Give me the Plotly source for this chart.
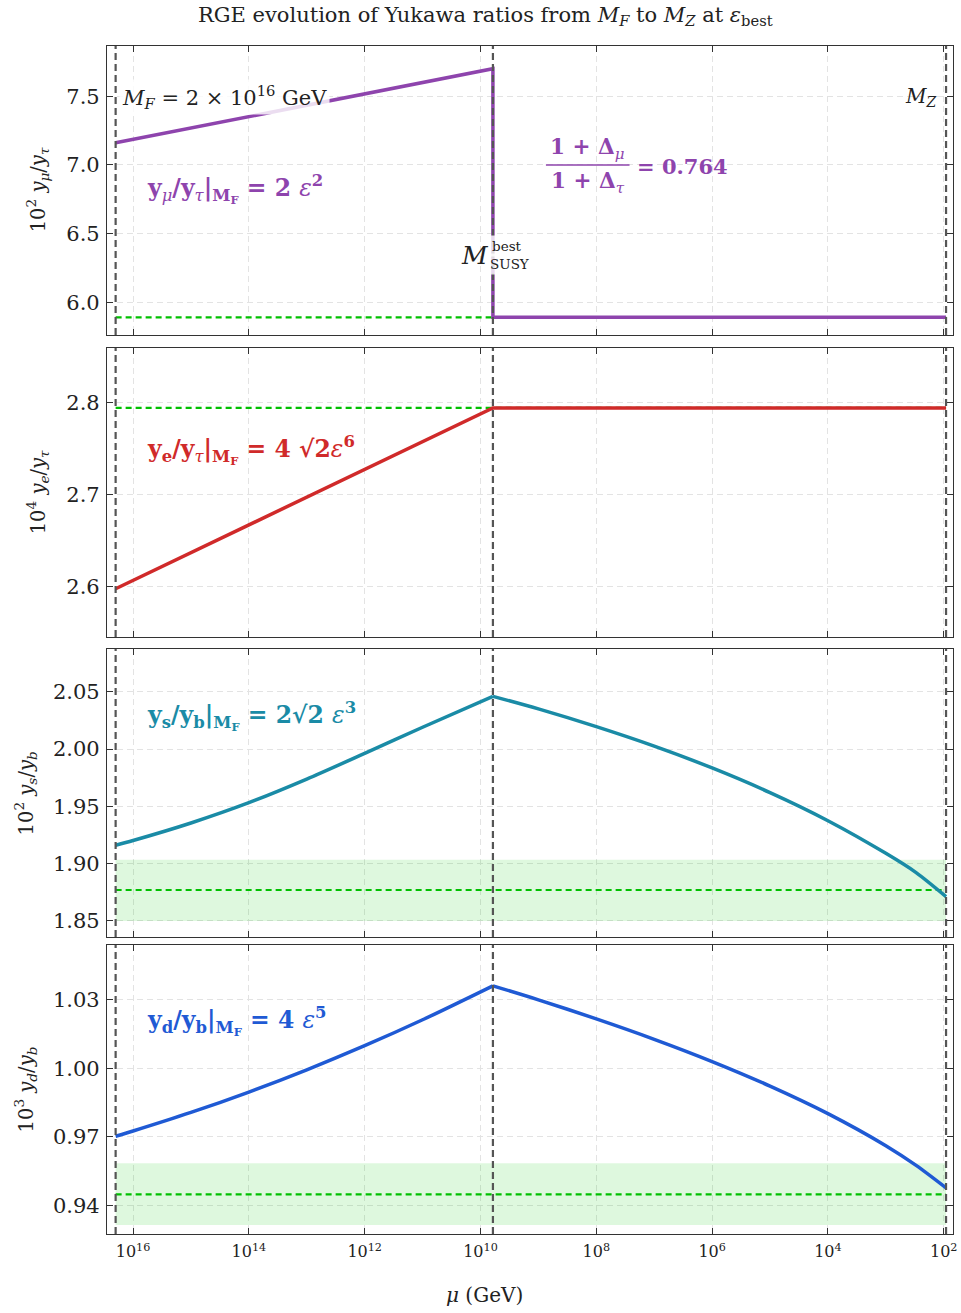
import numpy as np
import plotly.graph_objects as go

# ---------------- data ----------------
M_F = 2e16
M_SUSY = 6.1e9
M_Z = 91.19

# panel 1 : 10^2 y_mu/y_tau
mu_x = [M_F, M_SUSY, M_SUSY, M_Z]
mu_y = [7.161, 7.701, 5.891, 5.891]
mu_exp = 5.891

# panel 2 : 10^4 y_e/y_tau
e_x = [M_F, M_SUSY, M_Z]
e_y = [2.598, 2.794, 2.794]
e_exp = 2.794

# panel 3 : 10^2 y_s/y_b
s_x_hi = [M_F, 1e16, 1e15, 1e14, 1e13, 1e12, 1e11, M_SUSY]
s_y_hi = [1.9161, 1.9202, 1.9355, 1.9532, 1.9738, 1.9962, 2.0190, 2.0460]
s_x_lo = [M_SUSY, 1e9, 1e8, 1e7, 1e6, 1e5, 1e4, 1e3, 3e2, M_Z]
s_y_lo = [2.0460, 2.0350, 2.0195, 2.0025, 1.9835, 1.9620, 1.9375, 1.9090, 1.8922, 1.8712]
s_exp = 1.877
s_band = [1.850, 1.9035]

# panel 4 : 10^3 y_d/y_b
d_x_hi = [M_F, 1e16, 1e15, 1e14, 1e13, 1e12, 1e11, M_SUSY]
d_y_hi = [0.9703, 0.9726, 0.9807, 0.9896, 0.9993, 1.0098, 1.0211, 1.0359]
d_x_lo = [M_SUSY, 1e9, 1e8, 1e7, 1e6, 1e5, 1e4, 1e3, 3e2, M_Z]
d_y_lo = [1.0359, 1.0298, 1.0215, 1.0126, 1.0029, 0.9922, 0.9802, 0.9662, 0.9576, 0.9478]
d_exp = 0.945
d_band = [0.9316, 0.9585]

x_tickvals = [1e16, 1e14, 1e12, 1e10, 1e8, 1e6, 1e4, 1e2]
x_ticktext = ["10<sup>16</sup>", "10<sup>14</sup>", "10<sup>12</sup>", "10<sup>10</sup>",
              "10<sup>8</sup>", "10<sup>6</sup>", "10<sup>4</sup>", "10<sup>2</sup>"]

y_ticks = [[6.0, 6.5, 7.0, 7.5], [2.6, 2.7, 2.8], [1.85, 1.90, 1.95, 2.00, 2.05], [0.94, 0.97, 1.00, 1.03]]
y_fmt = [".1f", ".1f", ".2f", ".2f"]
y_ranges = [[5.762, 7.866], [2.5457, 2.859], [1.836, 2.0873], [0.9277, 1.0537]]
x_range_log = [16.45, 1.84]

# ---------------- style ----------------
FONT = "DejaVu Serif"
PURPLE = "#8e44ad"
RED = "#d02a2a"
TEAL = "#1a8ba6"
BLUE = "#1f5ad4"
GREEN = "#00c000"
BAND = "rgba(0,200,0,0.13)"
VLINE = "#555555"

W, H = 961, 1313
ML, MR, MT, MB = 107, 4, 46, 79
PW = W - ML - MR
PH = H - MT - MB


def px(xp):
    return (xp - ML) / PW


def py(yp):
    return (H - MB - yp) / PH


domains = [[py(335), py(46)], [py(637), py(348)], [py(937), py(649)], [py(1234), py(945)]]

fig = go.Figure()
axnames = ["", "2", "3", "4"]


def add(trace, i):
    trace.update(xaxis="x" + axnames[i], yaxis="y" + axnames[i], showlegend=False, hoverinfo="skip")
    fig.add_trace(trace)


def band(lo_hi, i):
    add(go.Scatter(x=[M_F, M_Z, M_Z, M_F, M_F], y=[lo_hi[0], lo_hi[0], lo_hi[1], lo_hi[1], lo_hi[0]],
                   mode="lines", fill="toself", fillcolor=BAND, line=dict(width=0)), i)


def expline(v, i):
    add(go.Scatter(x=[M_F, M_Z], y=[v, v], mode="lines",
                   line=dict(color=GREEN, width=2.2, dash="6px,4px")), i)


def curve(x, y, color, i, spline=False):
    line = dict(color=color, width=3.5)
    if spline:
        line.update(shape="spline", smoothing=0.8)
    add(go.Scatter(x=x, y=y, mode="lines", line=line), i)


# panel 1
expline(mu_exp, 0)
curve(mu_x, mu_y, PURPLE, 0)
# panel 2
expline(e_exp, 1)
curve(e_x, e_y, RED, 1)
# panel 3
band(s_band, 2)
expline(s_exp, 2)
curve(s_x_hi, s_y_hi, TEAL, 2, spline=True)
curve(s_x_lo, s_y_lo, TEAL, 2, spline=True)
# panel 4
band(d_band, 3)
expline(d_exp, 3)
curve(d_x_hi, d_y_hi, BLUE, 3, spline=True)
curve(d_x_lo, d_y_lo, BLUE, 3, spline=True)

# vertical reference lines (M_F, M_SUSY, M_Z) spanning each panel
for i in range(4):
    for m in (M_F, M_SUSY, M_Z):
        add(go.Scatter(x=[m, m], y=y_ranges[i], mode="lines",
                       line=dict(color=VLINE, width=2.2, dash="7px,4px"), cliponaxis=True), i)

shapes = [dict(type="line", xref="paper", yref="paper", x0=px(548), x1=px(632), y0=py(165), y1=py(165),
               line=dict(color=PURPLE, width=1.5))]

layout = dict(width=W, height=H, margin=dict(l=ML, r=MR, t=MT, b=MB),
              paper_bgcolor="white", plot_bgcolor="white",
              font=dict(family=FONT, size=19, color="#222"),
              title=dict(text="RGE evolution of Yukawa ratios from <i>M</i><sub><i>F</i></sub> to <i>M</i><sub><i>Z</i></sub> at <i>ε</i><sub>best</sub>",
                         x=0.505, xanchor="center", y=0.989, yanchor="middle",
                         font=dict(family=FONT, size=21, color="#222")),
              shapes=shapes, showlegend=False)

for i in range(4):
    xa = dict(type="log", range=x_range_log, domain=[0, 1], anchor="y" + axnames[i],
              tickvals=x_tickvals, ticktext=x_ticktext, showticklabels=(i == 3),
              ticks="inside", ticklen=6, tickcolor="#333", tickwidth=1,
              showline=True, linecolor="#333", linewidth=1.2, mirror="ticks",
              showgrid=True, gridcolor="#e3e3e3", gridwidth=1, griddash="6px,4px",
              zeroline=False, tickfont=dict(size=16), ticklabelstandoff=3,
              ticklabeloverflow="allow")
    if i > 0:
        xa["matches"] = "x"
    ya = dict(range=y_ranges[i], domain=domains[i], anchor="x" + axnames[i],
              tickvals=y_ticks[i], tickformat=y_fmt[i],
              ticks="inside", ticklen=6, tickcolor="#333", tickwidth=1,
              showline=True, linecolor="#333", linewidth=1.2, mirror="ticks",
              showgrid=True, gridcolor="#e3e3e3", gridwidth=1, griddash="6px,4px",
              zeroline=False, tickfont=dict(size=21), ticklabelstandoff=2)
    layout["xaxis" + axnames[i]] = xa
    layout["yaxis" + axnames[i]] = ya

fig.update_layout(**layout)

ann = []


def A(text, xp, yp, size=21, color="#222", xanchor="left", bg=None, textangle=0):
    d = dict(text=text, xref="paper", yref="paper", x=px(xp), y=py(yp), xanchor=xanchor, yanchor="middle",
             showarrow=False, font=dict(family=FONT, size=size, color=color), textangle=textangle)
    if bg:
        d["bgcolor"] = bg
        d["borderpad"] = 2
    ann.append(d)


LBL = 23.5
A("<i>M</i><sub><i>F</i></sub> = 2 × 10<sup>16</sup> GeV", 119, 97, size=21, bg="rgba(255,255,255,0.82)")
A("<i>M</i><sub><i>Z</i></sub>", 942, 97, size=20, xanchor="right")
A("<b>y</b><sub><i>μ</i></sub><b>/y</b><sub><i>τ</i></sub><b>|</b><sub><b>M<sub>F</sub></b></sub><b> = 2 </b><i>ε</i><sup><b>2</b></sup>",
  145, 189, size=LBL, color=PURPLE)
A("<b>1 + Δ</b><sub><i>μ</i></sub>", 590, 148, size=21.5, color=PURPLE, xanchor="center")
A("<b>1 + Δ</b><sub><i>τ</i></sub>", 590, 183, size=21.5, color=PURPLE, xanchor="center")
A("<b>= 0.764</b>", 637, 166, size=21, color=PURPLE)
# M_SUSY^best label
A("<i>M</i>", 493, 255, size=25, xanchor="right")
A("best", 491, 246, size=13.5, bg="rgba(255,255,255,0.8)")
A("SUSY", 489, 264, size=13.5, bg="rgba(255,255,255,0.8)")

A("<b>y<sub>e</sub>/y</b><sub><i>τ</i></sub><b>|</b><sub><b>M<sub>F</sub></b></sub><b> = 4 √2</b><i>ε</i><sup><b>6</b></sup>",
  145, 450, size=LBL, color=RED)
A("<b>y<sub>s</sub>/y<sub>b</sub>|</b><sub><b>M<sub>F</sub></b></sub><b> = 2√2 </b><i>ε</i><sup><b>3</b></sup>",
  145, 716, size=LBL, color=TEAL)
A("<b>y<sub>d</sub>/y<sub>b</sub>|</b><sub><b>M<sub>F</sub></b></sub><b> = 4 </b><i>ε</i><sup><b>5</b></sup>",
  145, 1021, size=LBL, color=BLUE)

# y-axis titles
YT = 19.5
A("10<sup>2</sup> <i>y<sub>μ</sub></i>/<i>y<sub>τ</sub></i>", 37, 190, size=YT, xanchor="center", textangle=-90)
A("10<sup>4</sup> <i>y<sub>e</sub></i>/<i>y<sub>τ</sub></i>", 37, 492, size=YT, xanchor="center", textangle=-90)
A("10<sup>2</sup> <i>y<sub>s</sub></i>/<i>y<sub>b</sub></i>", 25, 793, size=YT, xanchor="center", textangle=-90)
A("10<sup>3</sup> <i>y<sub>d</sub></i>/<i>y<sub>b</sub></i>", 25, 1089, size=YT, xanchor="center", textangle=-90)
# x-axis title
A("<i>μ</i> (GeV)", 486, 1295, size=20, xanchor="center")

fig.update_layout(annotations=ann)
fig.write_html("out.html")
